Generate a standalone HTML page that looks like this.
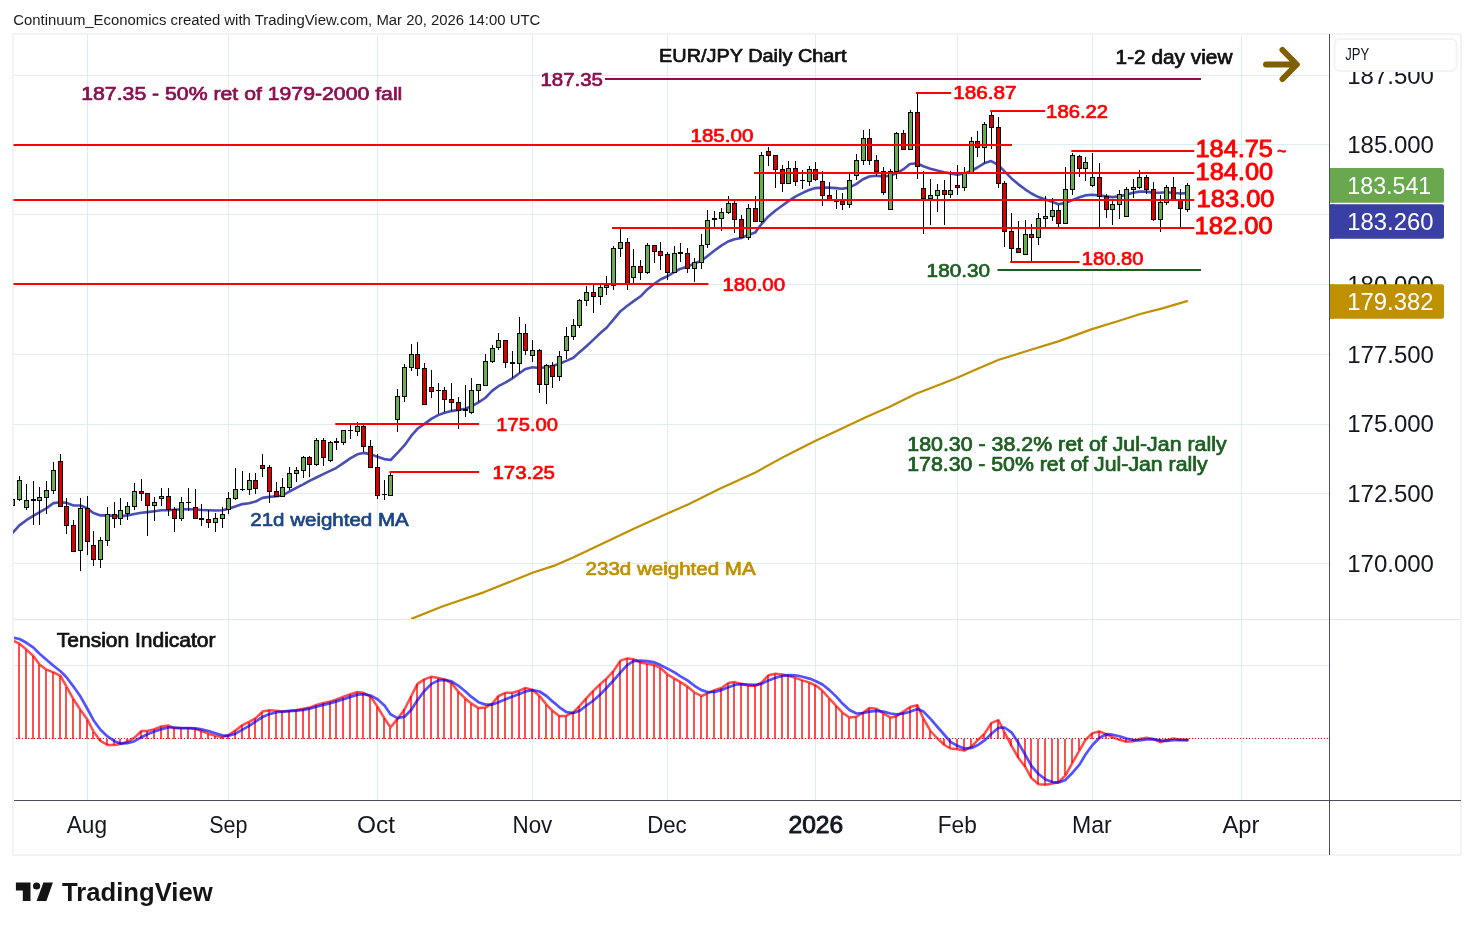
<!DOCTYPE html><html><head><meta charset="utf-8"><title>EUR/JPY Daily Chart</title><style>html,body{margin:0;padding:0;background:#fff}svg{display:block;will-change:transform}</style></head><body><svg width="1474" height="930" viewBox="0 0 1474 930" font-family="'Liberation Sans', sans-serif">
<rect width="1474" height="930" fill="#fff"/>
<g shape-rendering="crispEdges">
<rect x="12.00" y="33.00" width="1450.00" height="2.00" fill="#f3f3f5" />
<rect x="12.00" y="854.00" width="1450.00" height="2.00" fill="#f3f3f5" />
<rect x="12.00" y="33.00" width="2.00" height="823.00" fill="#f3f3f5" />
<rect x="1460.00" y="33.00" width="2.00" height="823.00" fill="#f3f3f5" />
<rect x="87.00" y="35.00" width="1.00" height="765.00" fill="#e1ebf2" />
<rect x="228.00" y="35.00" width="1.00" height="765.00" fill="#e1ebf2" />
<rect x="377.00" y="35.00" width="1.00" height="765.00" fill="#e1ebf2" />
<rect x="532.00" y="35.00" width="1.00" height="765.00" fill="#e1ebf2" />
<rect x="667.00" y="35.00" width="1.00" height="765.00" fill="#e1ebf2" />
<rect x="815.00" y="35.00" width="1.00" height="765.00" fill="#e1ebf2" />
<rect x="957.00" y="35.00" width="1.00" height="765.00" fill="#e1ebf2" />
<rect x="1092.00" y="35.00" width="1.00" height="765.00" fill="#e1ebf2" />
<rect x="1241.00" y="35.00" width="1.00" height="765.00" fill="#e1ebf2" />
<rect x="14.00" y="75.00" width="1315.00" height="1.00" fill="#e1ebf2" />
<rect x="14.00" y="144.00" width="1315.00" height="1.00" fill="#e1ebf2" />
<rect x="14.00" y="214.00" width="1315.00" height="1.00" fill="#e1ebf2" />
<rect x="14.00" y="284.00" width="1315.00" height="1.00" fill="#e1ebf2" />
<rect x="14.00" y="354.00" width="1315.00" height="1.00" fill="#e1ebf2" />
<rect x="14.00" y="424.00" width="1315.00" height="1.00" fill="#e1ebf2" />
<rect x="14.00" y="493.00" width="1315.00" height="1.00" fill="#e1ebf2" />
<rect x="14.00" y="563.00" width="1315.00" height="1.00" fill="#e1ebf2" />
<rect x="14.00" y="665.00" width="1315.00" height="1.00" fill="#e1ebf2" />
<rect x="14.00" y="738.00" width="1315.00" height="1.00" fill="#e1ebf2" />
<rect x="14.00" y="619.00" width="1446.00" height="1.00" fill="#e2e5ec" />
</g>
<defs><clipPath id="cm"><rect x="13" y="35" width="1316" height="584"/></clipPath><clipPath id="ci"><rect x="14" y="620" width="1315" height="180"/></clipPath></defs>
<g clip-path="url(#cm)">
<polyline points="412.0,618.6 442.2,606.5 484.3,592.1 532.5,572.8 553.6,565.9 573.2,557.4 604.8,542.4 634.9,528.2 668.0,513.2 689.1,504.1 719.2,489.1 755.4,472.5 785.5,455.9 815.0,441.1 836.1,431.2 866.3,417.0 890.3,406.5 916.0,393.8 935.5,386.3 956.6,377.9 977.7,368.8 998.8,359.8 1022.9,352.3 1059.0,341.1 1092.1,329.1 1119.2,320.7 1140.3,314.0 1161.4,308.6 1187.0,301.1" fill="none" stroke="#bf9000" stroke-width="2.2" stroke-linejoin="round" stroke-linecap="round" />
<polyline points="13.0,532.5 19.4,525.4 26.3,520.2 33.3,515.9 39.3,512.3 46.4,508.3 53.5,503.1 60.3,502.2 66.5,502.9 73.6,505.5 80.4,505.5 87.3,508.3 93.4,513.1 100.5,515.4 107.4,515.4 114.2,515.9 120.4,516.4 127.5,515.4 134.3,514.0 141.4,512.8 147.4,512.1 154.4,511.2 161.3,510.2 168.4,510.2 174.3,509.7 181.4,509.3 188.5,509.3 195.4,509.5 201.5,510.0 208.4,510.2 215.5,510.5 222.3,510.2 228.5,508.8 235.3,506.4 242.4,504.1 249.0,503.3 255.6,501.6 262.5,497.9 269.3,496.9 276.2,496.2 282.6,495.5 289.4,491.5 296.3,487.9 303.2,484.4 309.5,480.8 316.4,477.5 323.3,474.2 330.1,470.9 336.5,467.8 343.4,463.1 350.2,458.4 357.3,454.3 363.5,452.9 370.3,454.1 377.4,456.7 384.3,459.1 390.7,460.0 397.5,452.9 404.4,445.4 411.2,435.9 417.4,428.8 424.2,424.1 431.3,418.9 438.2,415.1 444.6,412.7 451.4,411.1 458.3,409.9 465.2,408.7 471.6,406.3 478.4,402.3 485.2,398.0 492.1,390.9 498.4,386.2 505.3,382.7 512.4,378.4 519.3,373.2 525.6,368.9 532.5,367.3 539.4,368.0 546.2,367.3 552.6,366.1 559.5,363.7 566.3,360.9 573.4,357.8 579.8,351.9 586.7,346.0 593.5,339.6 600.4,333.0 606.8,327.5 613.6,319.3 620.5,311.2 627.4,305.8 633.7,301.1 640.6,296.3 647.5,289.2 654.3,283.8 660.7,279.3 667.6,276.2 674.4,272.0 680.6,268.7 687.4,266.8 694.5,263.2 701.2,260.9 707.3,256.2 714.2,250.8 721.3,245.6 728.1,241.5 734.5,239.2 741.4,238.0 748.2,234.9 755.1,232.6 761.3,224.3 768.1,216.7 775.2,210.8 782.1,205.8 788.5,201.1 795.3,196.6 802.2,193.1 809.0,190.0 815.4,188.1 822.3,187.6 829.1,187.6 836.0,188.1 842.1,188.8 849.2,187.6 856.1,184.1 863.0,179.3 869.3,176.5 876.2,175.8 883.1,176.5 889.9,175.8 896.3,173.4 903.2,169.4 910.0,164.0 916.9,163.3 923.3,166.3 930.4,168.7 937.2,170.6 944.3,172.2 950.4,173.4 957.3,174.6 964.1,173.4 971.0,171.1 977.4,167.5 984.2,163.3 991.1,161.1 997.9,164.7 1004.3,171.1 1011.2,178.2 1018.1,184.1 1025.1,189.3 1031.5,193.5 1038.4,197.1 1045.3,199.4 1052.1,201.8 1058.3,204.2 1065.1,203.0 1072.0,200.2 1078.8,197.5 1085.2,195.4 1092.1,194.7 1099.2,195.4 1106.0,196.4 1112.4,197.1 1119.3,196.4 1126.1,194.7 1133.0,192.8 1139.4,191.6 1146.2,191.6 1153.1,192.8 1160.0,192.8 1166.3,192.3 1173.2,192.8 1180.1,193.5 1186.9,193.1" fill="none" stroke="#3a3fae" stroke-width="2.6" stroke-linejoin="round" stroke-linecap="round" stroke-opacity="0.92"/>
<g shape-rendering="crispEdges">
<rect x="12.00" y="499.00" width="1.00" height="6.00" fill="#000" />
<rect x="10.00" y="499.00" width="5.00" height="7.00" fill="#000" />
<rect x="11.00" y="500.00" width="3.00" height="5.00" fill="#6aae52" />
<rect x="19.00" y="476.00" width="1.00" height="25.00" fill="#000" />
<rect x="17.00" y="480.00" width="5.00" height="20.00" fill="#000" />
<rect x="18.00" y="481.00" width="3.00" height="18.00" fill="#6aae52" />
<rect x="26.00" y="484.00" width="1.00" height="26.00" fill="#000" />
<rect x="24.00" y="500.00" width="5.00" height="8.00" fill="#000" />
<rect x="25.00" y="501.00" width="3.00" height="6.00" fill="#6aae52" />
<rect x="33.00" y="481.00" width="1.00" height="44.00" fill="#000" />
<rect x="31.00" y="499.00" width="5.00" height="2.00" fill="#000" />
<rect x="39.00" y="487.00" width="1.00" height="38.00" fill="#000" />
<rect x="37.00" y="497.00" width="5.00" height="4.00" fill="#000" />
<rect x="38.00" y="498.00" width="3.00" height="2.00" fill="#6aae52" />
<rect x="46.00" y="481.00" width="1.00" height="33.00" fill="#000" />
<rect x="44.00" y="490.00" width="5.00" height="8.00" fill="#000" />
<rect x="45.00" y="491.00" width="3.00" height="6.00" fill="#6aae52" />
<rect x="53.00" y="462.00" width="1.00" height="32.00" fill="#000" />
<rect x="51.00" y="470.00" width="5.00" height="21.00" fill="#000" />
<rect x="52.00" y="471.00" width="3.00" height="19.00" fill="#6aae52" />
<rect x="60.00" y="454.00" width="1.00" height="52.00" fill="#000" />
<rect x="58.00" y="461.00" width="5.00" height="46.00" fill="#000" />
<rect x="59.00" y="462.00" width="3.00" height="44.00" fill="#d90000" />
<rect x="66.00" y="498.00" width="1.00" height="36.00" fill="#000" />
<rect x="64.00" y="506.00" width="5.00" height="20.00" fill="#000" />
<rect x="65.00" y="507.00" width="3.00" height="18.00" fill="#d90000" />
<rect x="73.00" y="520.00" width="1.00" height="32.00" fill="#000" />
<rect x="71.00" y="525.00" width="5.00" height="27.00" fill="#000" />
<rect x="72.00" y="526.00" width="3.00" height="25.00" fill="#d90000" />
<rect x="80.00" y="498.00" width="1.00" height="73.00" fill="#000" />
<rect x="78.00" y="508.00" width="5.00" height="43.00" fill="#000" />
<rect x="79.00" y="509.00" width="3.00" height="41.00" fill="#6aae52" />
<rect x="87.00" y="496.00" width="1.00" height="59.00" fill="#000" />
<rect x="85.00" y="508.00" width="5.00" height="34.00" fill="#000" />
<rect x="86.00" y="509.00" width="3.00" height="32.00" fill="#d90000" />
<rect x="93.00" y="531.00" width="1.00" height="35.00" fill="#000" />
<rect x="91.00" y="545.00" width="5.00" height="15.00" fill="#000" />
<rect x="92.00" y="546.00" width="3.00" height="13.00" fill="#d90000" />
<rect x="100.00" y="537.00" width="1.00" height="31.00" fill="#000" />
<rect x="98.00" y="540.00" width="5.00" height="20.00" fill="#000" />
<rect x="99.00" y="541.00" width="3.00" height="18.00" fill="#6aae52" />
<rect x="107.00" y="507.00" width="1.00" height="39.00" fill="#000" />
<rect x="105.00" y="514.00" width="5.00" height="27.00" fill="#000" />
<rect x="106.00" y="515.00" width="3.00" height="25.00" fill="#6aae52" />
<rect x="114.00" y="502.00" width="1.00" height="26.00" fill="#000" />
<rect x="112.00" y="514.00" width="5.00" height="5.00" fill="#000" />
<rect x="113.00" y="515.00" width="3.00" height="3.00" fill="#d90000" />
<rect x="120.00" y="498.00" width="1.00" height="27.00" fill="#000" />
<rect x="118.00" y="510.00" width="5.00" height="9.00" fill="#000" />
<rect x="119.00" y="511.00" width="3.00" height="7.00" fill="#6aae52" />
<rect x="127.00" y="502.00" width="1.00" height="18.00" fill="#000" />
<rect x="125.00" y="506.00" width="5.00" height="8.00" fill="#000" />
<rect x="126.00" y="507.00" width="3.00" height="6.00" fill="#6aae52" />
<rect x="134.00" y="483.00" width="1.00" height="27.00" fill="#000" />
<rect x="132.00" y="491.00" width="5.00" height="16.00" fill="#000" />
<rect x="133.00" y="492.00" width="3.00" height="14.00" fill="#6aae52" />
<rect x="141.00" y="479.00" width="1.00" height="22.00" fill="#000" />
<rect x="139.00" y="491.00" width="5.00" height="3.00" fill="#000" />
<rect x="140.00" y="492.00" width="3.00" height="1.00" fill="#d90000" />
<rect x="147.00" y="493.00" width="1.00" height="43.00" fill="#000" />
<rect x="145.00" y="493.00" width="5.00" height="13.00" fill="#000" />
<rect x="146.00" y="494.00" width="3.00" height="11.00" fill="#d90000" />
<rect x="154.00" y="497.00" width="1.00" height="24.00" fill="#000" />
<rect x="152.00" y="502.00" width="5.00" height="4.00" fill="#000" />
<rect x="153.00" y="503.00" width="3.00" height="2.00" fill="#6aae52" />
<rect x="161.00" y="488.00" width="1.00" height="18.00" fill="#000" />
<rect x="159.00" y="496.00" width="5.00" height="3.00" fill="#000" />
<rect x="160.00" y="497.00" width="3.00" height="1.00" fill="#6aae52" />
<rect x="168.00" y="488.00" width="1.00" height="28.00" fill="#000" />
<rect x="166.00" y="496.00" width="5.00" height="14.00" fill="#000" />
<rect x="167.00" y="497.00" width="3.00" height="12.00" fill="#d90000" />
<rect x="174.00" y="507.00" width="1.00" height="25.00" fill="#000" />
<rect x="172.00" y="509.00" width="5.00" height="10.00" fill="#000" />
<rect x="173.00" y="510.00" width="3.00" height="8.00" fill="#d90000" />
<rect x="181.00" y="497.00" width="1.00" height="24.00" fill="#000" />
<rect x="179.00" y="502.00" width="5.00" height="17.00" fill="#000" />
<rect x="180.00" y="503.00" width="3.00" height="15.00" fill="#6aae52" />
<rect x="188.00" y="488.00" width="1.00" height="23.00" fill="#000" />
<rect x="186.00" y="502.00" width="5.00" height="1.00" fill="#000" />
<rect x="195.00" y="489.00" width="1.00" height="29.00" fill="#000" />
<rect x="193.00" y="507.00" width="5.00" height="12.00" fill="#000" />
<rect x="194.00" y="508.00" width="3.00" height="10.00" fill="#d90000" />
<rect x="201.00" y="504.00" width="1.00" height="22.00" fill="#000" />
<rect x="199.00" y="518.00" width="5.00" height="2.00" fill="#000" />
<rect x="208.00" y="510.00" width="1.00" height="18.00" fill="#000" />
<rect x="206.00" y="519.00" width="5.00" height="4.00" fill="#000" />
<rect x="207.00" y="520.00" width="3.00" height="2.00" fill="#d90000" />
<rect x="215.00" y="513.00" width="1.00" height="19.00" fill="#000" />
<rect x="213.00" y="518.00" width="5.00" height="5.00" fill="#000" />
<rect x="214.00" y="519.00" width="3.00" height="3.00" fill="#6aae52" />
<rect x="222.00" y="507.00" width="1.00" height="21.00" fill="#000" />
<rect x="220.00" y="514.00" width="5.00" height="5.00" fill="#000" />
<rect x="221.00" y="515.00" width="3.00" height="3.00" fill="#6aae52" />
<rect x="228.00" y="492.00" width="1.00" height="22.00" fill="#000" />
<rect x="226.00" y="498.00" width="5.00" height="12.00" fill="#000" />
<rect x="227.00" y="499.00" width="3.00" height="10.00" fill="#6aae52" />
<rect x="235.00" y="468.00" width="1.00" height="32.00" fill="#000" />
<rect x="233.00" y="489.00" width="5.00" height="10.00" fill="#000" />
<rect x="234.00" y="490.00" width="3.00" height="8.00" fill="#6aae52" />
<rect x="242.00" y="471.00" width="1.00" height="20.00" fill="#000" />
<rect x="240.00" y="489.00" width="5.00" height="1.00" fill="#000" />
<rect x="249.00" y="473.00" width="1.00" height="22.00" fill="#000" />
<rect x="247.00" y="480.00" width="5.00" height="10.00" fill="#000" />
<rect x="248.00" y="481.00" width="3.00" height="8.00" fill="#6aae52" />
<rect x="255.00" y="473.00" width="1.00" height="21.00" fill="#000" />
<rect x="253.00" y="480.00" width="5.00" height="9.00" fill="#000" />
<rect x="254.00" y="481.00" width="3.00" height="7.00" fill="#d90000" />
<rect x="262.00" y="454.00" width="1.00" height="23.00" fill="#000" />
<rect x="260.00" y="465.00" width="5.00" height="4.00" fill="#000" />
<rect x="261.00" y="466.00" width="3.00" height="2.00" fill="#d90000" />
<rect x="269.00" y="465.00" width="1.00" height="38.00" fill="#000" />
<rect x="267.00" y="467.00" width="5.00" height="25.00" fill="#000" />
<rect x="268.00" y="468.00" width="3.00" height="23.00" fill="#d90000" />
<rect x="276.00" y="482.00" width="1.00" height="15.00" fill="#000" />
<rect x="274.00" y="491.00" width="5.00" height="6.00" fill="#000" />
<rect x="275.00" y="492.00" width="3.00" height="4.00" fill="#d90000" />
<rect x="282.00" y="478.00" width="1.00" height="19.00" fill="#000" />
<rect x="280.00" y="487.00" width="5.00" height="10.00" fill="#000" />
<rect x="281.00" y="488.00" width="3.00" height="8.00" fill="#6aae52" />
<rect x="289.00" y="467.00" width="1.00" height="23.00" fill="#000" />
<rect x="287.00" y="473.00" width="5.00" height="15.00" fill="#000" />
<rect x="288.00" y="474.00" width="3.00" height="13.00" fill="#6aae52" />
<rect x="296.00" y="467.00" width="1.00" height="15.00" fill="#000" />
<rect x="294.00" y="470.00" width="5.00" height="4.00" fill="#000" />
<rect x="295.00" y="471.00" width="3.00" height="2.00" fill="#6aae52" />
<rect x="303.00" y="456.00" width="1.00" height="22.00" fill="#000" />
<rect x="301.00" y="457.00" width="5.00" height="14.00" fill="#000" />
<rect x="302.00" y="458.00" width="3.00" height="12.00" fill="#6aae52" />
<rect x="309.00" y="456.00" width="1.00" height="21.00" fill="#000" />
<rect x="307.00" y="457.00" width="5.00" height="8.00" fill="#000" />
<rect x="308.00" y="458.00" width="3.00" height="6.00" fill="#d90000" />
<rect x="316.00" y="438.00" width="1.00" height="28.00" fill="#000" />
<rect x="314.00" y="440.00" width="5.00" height="25.00" fill="#000" />
<rect x="315.00" y="441.00" width="3.00" height="23.00" fill="#6aae52" />
<rect x="323.00" y="438.00" width="1.00" height="28.00" fill="#000" />
<rect x="321.00" y="440.00" width="5.00" height="18.00" fill="#000" />
<rect x="322.00" y="441.00" width="3.00" height="16.00" fill="#d90000" />
<rect x="330.00" y="441.00" width="1.00" height="21.00" fill="#000" />
<rect x="328.00" y="442.00" width="5.00" height="19.00" fill="#000" />
<rect x="329.00" y="443.00" width="3.00" height="17.00" fill="#6aae52" />
<rect x="336.00" y="438.00" width="1.00" height="12.00" fill="#000" />
<rect x="334.00" y="441.00" width="5.00" height="2.00" fill="#000" />
<rect x="343.00" y="430.00" width="1.00" height="15.00" fill="#000" />
<rect x="341.00" y="430.00" width="5.00" height="13.00" fill="#000" />
<rect x="342.00" y="431.00" width="3.00" height="11.00" fill="#6aae52" />
<rect x="350.00" y="425.00" width="1.00" height="14.00" fill="#000" />
<rect x="348.00" y="430.00" width="5.00" height="1.00" fill="#000" />
<rect x="357.00" y="422.00" width="1.00" height="14.00" fill="#000" />
<rect x="355.00" y="426.00" width="5.00" height="6.00" fill="#000" />
<rect x="356.00" y="427.00" width="3.00" height="4.00" fill="#6aae52" />
<rect x="363.00" y="425.00" width="1.00" height="27.00" fill="#000" />
<rect x="361.00" y="426.00" width="5.00" height="21.00" fill="#000" />
<rect x="362.00" y="427.00" width="3.00" height="19.00" fill="#d90000" />
<rect x="370.00" y="440.00" width="1.00" height="28.00" fill="#000" />
<rect x="368.00" y="446.00" width="5.00" height="22.00" fill="#000" />
<rect x="369.00" y="447.00" width="3.00" height="20.00" fill="#d90000" />
<rect x="377.00" y="454.00" width="1.00" height="45.00" fill="#000" />
<rect x="375.00" y="467.00" width="5.00" height="29.00" fill="#000" />
<rect x="376.00" y="468.00" width="3.00" height="27.00" fill="#d90000" />
<rect x="384.00" y="480.00" width="1.00" height="20.00" fill="#000" />
<rect x="382.00" y="494.00" width="5.00" height="1.00" fill="#000" />
<rect x="390.00" y="473.00" width="1.00" height="22.00" fill="#000" />
<rect x="388.00" y="475.00" width="5.00" height="21.00" fill="#000" />
<rect x="389.00" y="476.00" width="3.00" height="19.00" fill="#6aae52" />
<rect x="397.00" y="389.00" width="1.00" height="43.00" fill="#000" />
<rect x="395.00" y="396.00" width="5.00" height="24.00" fill="#000" />
<rect x="396.00" y="397.00" width="3.00" height="22.00" fill="#6aae52" />
<rect x="404.00" y="364.00" width="1.00" height="38.00" fill="#000" />
<rect x="402.00" y="367.00" width="5.00" height="30.00" fill="#000" />
<rect x="403.00" y="368.00" width="3.00" height="28.00" fill="#6aae52" />
<rect x="411.00" y="344.00" width="1.00" height="27.00" fill="#000" />
<rect x="409.00" y="354.00" width="5.00" height="14.00" fill="#000" />
<rect x="410.00" y="355.00" width="3.00" height="12.00" fill="#6aae52" />
<rect x="417.00" y="342.00" width="1.00" height="34.00" fill="#000" />
<rect x="415.00" y="354.00" width="5.00" height="15.00" fill="#000" />
<rect x="416.00" y="355.00" width="3.00" height="13.00" fill="#d90000" />
<rect x="424.00" y="363.00" width="1.00" height="42.00" fill="#000" />
<rect x="422.00" y="368.00" width="5.00" height="37.00" fill="#000" />
<rect x="423.00" y="369.00" width="3.00" height="35.00" fill="#d90000" />
<rect x="431.00" y="370.00" width="1.00" height="28.00" fill="#000" />
<rect x="429.00" y="387.00" width="5.00" height="5.00" fill="#000" />
<rect x="430.00" y="388.00" width="3.00" height="3.00" fill="#d90000" />
<rect x="438.00" y="383.00" width="1.00" height="31.00" fill="#000" />
<rect x="436.00" y="390.00" width="5.00" height="1.00" fill="#000" />
<rect x="444.00" y="387.00" width="1.00" height="25.00" fill="#000" />
<rect x="442.00" y="390.00" width="5.00" height="10.00" fill="#000" />
<rect x="443.00" y="391.00" width="3.00" height="8.00" fill="#d90000" />
<rect x="451.00" y="383.00" width="1.00" height="28.00" fill="#000" />
<rect x="449.00" y="399.00" width="5.00" height="4.00" fill="#000" />
<rect x="450.00" y="400.00" width="3.00" height="2.00" fill="#d90000" />
<rect x="458.00" y="397.00" width="1.00" height="32.00" fill="#000" />
<rect x="456.00" y="402.00" width="5.00" height="9.00" fill="#000" />
<rect x="457.00" y="403.00" width="3.00" height="7.00" fill="#d90000" />
<rect x="465.00" y="385.00" width="1.00" height="32.00" fill="#000" />
<rect x="463.00" y="409.00" width="5.00" height="2.00" fill="#000" />
<rect x="471.00" y="378.00" width="1.00" height="36.00" fill="#000" />
<rect x="469.00" y="390.00" width="5.00" height="23.00" fill="#000" />
<rect x="470.00" y="391.00" width="3.00" height="21.00" fill="#6aae52" />
<rect x="478.00" y="384.00" width="1.00" height="18.00" fill="#000" />
<rect x="476.00" y="384.00" width="5.00" height="7.00" fill="#000" />
<rect x="477.00" y="385.00" width="3.00" height="5.00" fill="#6aae52" />
<rect x="485.00" y="354.00" width="1.00" height="32.00" fill="#000" />
<rect x="483.00" y="361.00" width="5.00" height="25.00" fill="#000" />
<rect x="484.00" y="362.00" width="3.00" height="23.00" fill="#6aae52" />
<rect x="492.00" y="345.00" width="1.00" height="18.00" fill="#000" />
<rect x="490.00" y="348.00" width="5.00" height="14.00" fill="#000" />
<rect x="491.00" y="349.00" width="3.00" height="12.00" fill="#6aae52" />
<rect x="498.00" y="333.00" width="1.00" height="17.00" fill="#000" />
<rect x="496.00" y="340.00" width="5.00" height="8.00" fill="#000" />
<rect x="497.00" y="341.00" width="3.00" height="6.00" fill="#6aae52" />
<rect x="505.00" y="340.00" width="1.00" height="28.00" fill="#000" />
<rect x="503.00" y="340.00" width="5.00" height="23.00" fill="#000" />
<rect x="504.00" y="341.00" width="3.00" height="21.00" fill="#d90000" />
<rect x="512.00" y="351.00" width="1.00" height="27.00" fill="#000" />
<rect x="510.00" y="362.00" width="5.00" height="2.00" fill="#000" />
<rect x="519.00" y="317.00" width="1.00" height="56.00" fill="#000" />
<rect x="517.00" y="333.00" width="5.00" height="31.00" fill="#000" />
<rect x="518.00" y="334.00" width="3.00" height="29.00" fill="#6aae52" />
<rect x="525.00" y="324.00" width="1.00" height="31.00" fill="#000" />
<rect x="523.00" y="333.00" width="5.00" height="18.00" fill="#000" />
<rect x="524.00" y="334.00" width="3.00" height="16.00" fill="#d90000" />
<rect x="532.00" y="340.00" width="1.00" height="22.00" fill="#000" />
<rect x="530.00" y="350.00" width="5.00" height="6.00" fill="#000" />
<rect x="531.00" y="351.00" width="3.00" height="4.00" fill="#6aae52" />
<rect x="539.00" y="349.00" width="1.00" height="44.00" fill="#000" />
<rect x="537.00" y="350.00" width="5.00" height="35.00" fill="#000" />
<rect x="538.00" y="351.00" width="3.00" height="33.00" fill="#d90000" />
<rect x="546.00" y="364.00" width="1.00" height="40.00" fill="#000" />
<rect x="544.00" y="365.00" width="5.00" height="20.00" fill="#000" />
<rect x="545.00" y="366.00" width="3.00" height="18.00" fill="#6aae52" />
<rect x="552.00" y="362.00" width="1.00" height="26.00" fill="#000" />
<rect x="550.00" y="365.00" width="5.00" height="12.00" fill="#000" />
<rect x="551.00" y="366.00" width="3.00" height="10.00" fill="#d90000" />
<rect x="559.00" y="351.00" width="1.00" height="30.00" fill="#000" />
<rect x="557.00" y="356.00" width="5.00" height="21.00" fill="#000" />
<rect x="558.00" y="357.00" width="3.00" height="19.00" fill="#6aae52" />
<rect x="566.00" y="327.00" width="1.00" height="32.00" fill="#000" />
<rect x="564.00" y="336.00" width="5.00" height="15.00" fill="#000" />
<rect x="565.00" y="337.00" width="3.00" height="13.00" fill="#6aae52" />
<rect x="573.00" y="319.00" width="1.00" height="21.00" fill="#000" />
<rect x="571.00" y="325.00" width="5.00" height="12.00" fill="#000" />
<rect x="572.00" y="326.00" width="3.00" height="10.00" fill="#6aae52" />
<rect x="579.00" y="299.00" width="1.00" height="29.00" fill="#000" />
<rect x="577.00" y="300.00" width="5.00" height="26.00" fill="#000" />
<rect x="578.00" y="301.00" width="3.00" height="24.00" fill="#6aae52" />
<rect x="586.00" y="286.00" width="1.00" height="20.00" fill="#000" />
<rect x="584.00" y="292.00" width="5.00" height="9.00" fill="#000" />
<rect x="585.00" y="293.00" width="3.00" height="7.00" fill="#6aae52" />
<rect x="593.00" y="285.00" width="1.00" height="28.00" fill="#000" />
<rect x="591.00" y="292.00" width="5.00" height="5.00" fill="#000" />
<rect x="592.00" y="293.00" width="3.00" height="3.00" fill="#d90000" />
<rect x="600.00" y="285.00" width="1.00" height="20.00" fill="#000" />
<rect x="598.00" y="287.00" width="5.00" height="10.00" fill="#000" />
<rect x="599.00" y="288.00" width="3.00" height="8.00" fill="#6aae52" />
<rect x="606.00" y="276.00" width="1.00" height="19.00" fill="#000" />
<rect x="604.00" y="285.00" width="5.00" height="3.00" fill="#000" />
<rect x="605.00" y="286.00" width="3.00" height="1.00" fill="#6aae52" />
<rect x="613.00" y="246.00" width="1.00" height="44.00" fill="#000" />
<rect x="611.00" y="248.00" width="5.00" height="38.00" fill="#000" />
<rect x="612.00" y="249.00" width="3.00" height="36.00" fill="#6aae52" />
<rect x="620.00" y="229.00" width="1.00" height="28.00" fill="#000" />
<rect x="618.00" y="242.00" width="5.00" height="7.00" fill="#000" />
<rect x="619.00" y="243.00" width="3.00" height="5.00" fill="#6aae52" />
<rect x="627.00" y="238.00" width="1.00" height="52.00" fill="#000" />
<rect x="625.00" y="242.00" width="5.00" height="43.00" fill="#000" />
<rect x="626.00" y="243.00" width="3.00" height="41.00" fill="#d90000" />
<rect x="633.00" y="249.00" width="1.00" height="35.00" fill="#000" />
<rect x="631.00" y="266.00" width="5.00" height="12.00" fill="#000" />
<rect x="632.00" y="267.00" width="3.00" height="10.00" fill="#6aae52" />
<rect x="640.00" y="260.00" width="1.00" height="20.00" fill="#000" />
<rect x="638.00" y="266.00" width="5.00" height="7.00" fill="#000" />
<rect x="639.00" y="267.00" width="3.00" height="5.00" fill="#d90000" />
<rect x="647.00" y="243.00" width="1.00" height="31.00" fill="#000" />
<rect x="645.00" y="245.00" width="5.00" height="28.00" fill="#000" />
<rect x="646.00" y="246.00" width="3.00" height="26.00" fill="#6aae52" />
<rect x="654.00" y="245.00" width="1.00" height="18.00" fill="#000" />
<rect x="652.00" y="245.00" width="5.00" height="7.00" fill="#000" />
<rect x="653.00" y="246.00" width="3.00" height="5.00" fill="#d90000" />
<rect x="660.00" y="242.00" width="1.00" height="28.00" fill="#000" />
<rect x="658.00" y="251.00" width="5.00" height="5.00" fill="#000" />
<rect x="659.00" y="252.00" width="3.00" height="3.00" fill="#d90000" />
<rect x="667.00" y="252.00" width="1.00" height="28.00" fill="#000" />
<rect x="665.00" y="254.00" width="5.00" height="19.00" fill="#000" />
<rect x="666.00" y="255.00" width="3.00" height="17.00" fill="#d90000" />
<rect x="674.00" y="246.00" width="1.00" height="27.00" fill="#000" />
<rect x="672.00" y="253.00" width="5.00" height="20.00" fill="#000" />
<rect x="673.00" y="254.00" width="3.00" height="18.00" fill="#6aae52" />
<rect x="680.00" y="243.00" width="1.00" height="19.00" fill="#000" />
<rect x="678.00" y="252.00" width="5.00" height="2.00" fill="#000" />
<rect x="687.00" y="248.00" width="1.00" height="25.00" fill="#000" />
<rect x="685.00" y="253.00" width="5.00" height="16.00" fill="#000" />
<rect x="686.00" y="254.00" width="3.00" height="14.00" fill="#d90000" />
<rect x="694.00" y="258.00" width="1.00" height="24.00" fill="#000" />
<rect x="692.00" y="262.00" width="5.00" height="7.00" fill="#000" />
<rect x="693.00" y="263.00" width="3.00" height="5.00" fill="#6aae52" />
<rect x="701.00" y="234.00" width="1.00" height="35.00" fill="#000" />
<rect x="699.00" y="245.00" width="5.00" height="18.00" fill="#000" />
<rect x="700.00" y="246.00" width="3.00" height="16.00" fill="#6aae52" />
<rect x="707.00" y="210.00" width="1.00" height="38.00" fill="#000" />
<rect x="705.00" y="220.00" width="5.00" height="25.00" fill="#000" />
<rect x="706.00" y="221.00" width="3.00" height="23.00" fill="#6aae52" />
<rect x="714.00" y="211.00" width="1.00" height="16.00" fill="#000" />
<rect x="712.00" y="218.00" width="5.00" height="2.00" fill="#000" />
<rect x="721.00" y="208.00" width="1.00" height="23.00" fill="#000" />
<rect x="719.00" y="212.00" width="5.00" height="7.00" fill="#000" />
<rect x="720.00" y="213.00" width="3.00" height="5.00" fill="#6aae52" />
<rect x="728.00" y="196.00" width="1.00" height="18.00" fill="#000" />
<rect x="726.00" y="203.00" width="5.00" height="10.00" fill="#000" />
<rect x="727.00" y="204.00" width="3.00" height="8.00" fill="#6aae52" />
<rect x="734.00" y="201.00" width="1.00" height="32.00" fill="#000" />
<rect x="732.00" y="203.00" width="5.00" height="17.00" fill="#000" />
<rect x="733.00" y="204.00" width="3.00" height="15.00" fill="#d90000" />
<rect x="741.00" y="215.00" width="1.00" height="23.00" fill="#000" />
<rect x="739.00" y="219.00" width="5.00" height="19.00" fill="#000" />
<rect x="740.00" y="220.00" width="3.00" height="17.00" fill="#d90000" />
<rect x="748.00" y="204.00" width="1.00" height="36.00" fill="#000" />
<rect x="746.00" y="208.00" width="5.00" height="30.00" fill="#000" />
<rect x="747.00" y="209.00" width="3.00" height="28.00" fill="#6aae52" />
<rect x="755.00" y="196.00" width="1.00" height="26.00" fill="#000" />
<rect x="753.00" y="208.00" width="5.00" height="14.00" fill="#000" />
<rect x="754.00" y="209.00" width="3.00" height="12.00" fill="#d90000" />
<rect x="761.00" y="152.00" width="1.00" height="71.00" fill="#000" />
<rect x="759.00" y="155.00" width="5.00" height="67.00" fill="#000" />
<rect x="760.00" y="156.00" width="3.00" height="65.00" fill="#6aae52" />
<rect x="768.00" y="147.00" width="1.00" height="19.00" fill="#000" />
<rect x="766.00" y="151.00" width="5.00" height="5.00" fill="#000" />
<rect x="767.00" y="152.00" width="3.00" height="3.00" fill="#d90000" />
<rect x="775.00" y="155.00" width="1.00" height="33.00" fill="#000" />
<rect x="773.00" y="155.00" width="5.00" height="15.00" fill="#000" />
<rect x="774.00" y="156.00" width="3.00" height="13.00" fill="#d90000" />
<rect x="782.00" y="165.00" width="1.00" height="27.00" fill="#000" />
<rect x="780.00" y="169.00" width="5.00" height="15.00" fill="#000" />
<rect x="781.00" y="170.00" width="3.00" height="13.00" fill="#d90000" />
<rect x="788.00" y="161.00" width="1.00" height="23.00" fill="#000" />
<rect x="786.00" y="168.00" width="5.00" height="16.00" fill="#000" />
<rect x="787.00" y="169.00" width="3.00" height="14.00" fill="#6aae52" />
<rect x="795.00" y="161.00" width="1.00" height="25.00" fill="#000" />
<rect x="793.00" y="168.00" width="5.00" height="14.00" fill="#000" />
<rect x="794.00" y="169.00" width="3.00" height="12.00" fill="#d90000" />
<rect x="802.00" y="170.00" width="1.00" height="19.00" fill="#000" />
<rect x="800.00" y="180.00" width="5.00" height="1.00" fill="#000" />
<rect x="809.00" y="166.00" width="1.00" height="20.00" fill="#000" />
<rect x="807.00" y="169.00" width="5.00" height="13.00" fill="#000" />
<rect x="808.00" y="170.00" width="3.00" height="11.00" fill="#6aae52" />
<rect x="815.00" y="162.00" width="1.00" height="19.00" fill="#000" />
<rect x="813.00" y="169.00" width="5.00" height="11.00" fill="#000" />
<rect x="814.00" y="170.00" width="3.00" height="9.00" fill="#d90000" />
<rect x="822.00" y="171.00" width="1.00" height="35.00" fill="#000" />
<rect x="820.00" y="181.00" width="5.00" height="15.00" fill="#000" />
<rect x="821.00" y="182.00" width="3.00" height="13.00" fill="#d90000" />
<rect x="829.00" y="182.00" width="1.00" height="19.00" fill="#000" />
<rect x="827.00" y="195.00" width="5.00" height="5.00" fill="#000" />
<rect x="828.00" y="196.00" width="3.00" height="3.00" fill="#d90000" />
<rect x="836.00" y="190.00" width="1.00" height="19.00" fill="#000" />
<rect x="834.00" y="200.00" width="5.00" height="2.00" fill="#000" />
<rect x="842.00" y="193.00" width="1.00" height="17.00" fill="#000" />
<rect x="840.00" y="201.00" width="5.00" height="4.00" fill="#000" />
<rect x="841.00" y="202.00" width="3.00" height="2.00" fill="#d90000" />
<rect x="849.00" y="174.00" width="1.00" height="34.00" fill="#000" />
<rect x="847.00" y="180.00" width="5.00" height="25.00" fill="#000" />
<rect x="848.00" y="181.00" width="3.00" height="23.00" fill="#6aae52" />
<rect x="856.00" y="154.00" width="1.00" height="26.00" fill="#000" />
<rect x="854.00" y="160.00" width="5.00" height="16.00" fill="#000" />
<rect x="855.00" y="161.00" width="3.00" height="14.00" fill="#6aae52" />
<rect x="863.00" y="130.00" width="1.00" height="35.00" fill="#000" />
<rect x="861.00" y="138.00" width="5.00" height="23.00" fill="#000" />
<rect x="862.00" y="139.00" width="3.00" height="21.00" fill="#6aae52" />
<rect x="869.00" y="129.00" width="1.00" height="36.00" fill="#000" />
<rect x="867.00" y="138.00" width="5.00" height="23.00" fill="#000" />
<rect x="868.00" y="139.00" width="3.00" height="21.00" fill="#d90000" />
<rect x="876.00" y="155.00" width="1.00" height="21.00" fill="#000" />
<rect x="874.00" y="160.00" width="5.00" height="12.00" fill="#000" />
<rect x="875.00" y="161.00" width="3.00" height="10.00" fill="#d90000" />
<rect x="883.00" y="167.00" width="1.00" height="28.00" fill="#000" />
<rect x="881.00" y="171.00" width="5.00" height="22.00" fill="#000" />
<rect x="882.00" y="172.00" width="3.00" height="20.00" fill="#d90000" />
<rect x="890.00" y="169.00" width="1.00" height="40.00" fill="#000" />
<rect x="888.00" y="171.00" width="5.00" height="39.00" fill="#000" />
<rect x="889.00" y="172.00" width="3.00" height="37.00" fill="#6aae52" />
<rect x="896.00" y="132.00" width="1.00" height="47.00" fill="#000" />
<rect x="894.00" y="133.00" width="5.00" height="39.00" fill="#000" />
<rect x="895.00" y="134.00" width="3.00" height="37.00" fill="#6aae52" />
<rect x="903.00" y="130.00" width="1.00" height="20.00" fill="#000" />
<rect x="901.00" y="133.00" width="5.00" height="17.00" fill="#000" />
<rect x="902.00" y="134.00" width="3.00" height="15.00" fill="#d90000" />
<rect x="910.00" y="110.00" width="1.00" height="40.00" fill="#000" />
<rect x="908.00" y="112.00" width="5.00" height="38.00" fill="#000" />
<rect x="909.00" y="113.00" width="3.00" height="36.00" fill="#6aae52" />
<rect x="917.00" y="93.00" width="1.00" height="86.00" fill="#000" />
<rect x="915.00" y="112.00" width="5.00" height="55.00" fill="#000" />
<rect x="916.00" y="113.00" width="3.00" height="53.00" fill="#d90000" />
<rect x="923.00" y="171.00" width="1.00" height="63.00" fill="#000" />
<rect x="921.00" y="188.00" width="5.00" height="11.00" fill="#000" />
<rect x="922.00" y="189.00" width="3.00" height="9.00" fill="#d90000" />
<rect x="930.00" y="179.00" width="1.00" height="46.00" fill="#000" />
<rect x="928.00" y="195.00" width="5.00" height="4.00" fill="#000" />
<rect x="929.00" y="196.00" width="3.00" height="2.00" fill="#6aae52" />
<rect x="937.00" y="184.00" width="1.00" height="28.00" fill="#000" />
<rect x="935.00" y="190.00" width="5.00" height="6.00" fill="#000" />
<rect x="936.00" y="191.00" width="3.00" height="4.00" fill="#6aae52" />
<rect x="944.00" y="180.00" width="1.00" height="45.00" fill="#000" />
<rect x="942.00" y="190.00" width="5.00" height="5.00" fill="#000" />
<rect x="943.00" y="191.00" width="3.00" height="3.00" fill="#d90000" />
<rect x="950.00" y="171.00" width="1.00" height="27.00" fill="#000" />
<rect x="948.00" y="190.00" width="5.00" height="5.00" fill="#000" />
<rect x="949.00" y="191.00" width="3.00" height="3.00" fill="#6aae52" />
<rect x="957.00" y="165.00" width="1.00" height="30.00" fill="#000" />
<rect x="955.00" y="185.00" width="5.00" height="3.00" fill="#000" />
<rect x="956.00" y="186.00" width="3.00" height="1.00" fill="#d90000" />
<rect x="964.00" y="167.00" width="1.00" height="24.00" fill="#000" />
<rect x="962.00" y="173.00" width="5.00" height="15.00" fill="#000" />
<rect x="963.00" y="174.00" width="3.00" height="13.00" fill="#6aae52" />
<rect x="971.00" y="137.00" width="1.00" height="36.00" fill="#000" />
<rect x="969.00" y="141.00" width="5.00" height="33.00" fill="#000" />
<rect x="970.00" y="142.00" width="3.00" height="31.00" fill="#6aae52" />
<rect x="977.00" y="131.00" width="1.00" height="26.00" fill="#000" />
<rect x="975.00" y="141.00" width="5.00" height="7.00" fill="#000" />
<rect x="976.00" y="142.00" width="3.00" height="5.00" fill="#d90000" />
<rect x="984.00" y="122.00" width="1.00" height="41.00" fill="#000" />
<rect x="982.00" y="124.00" width="5.00" height="24.00" fill="#000" />
<rect x="983.00" y="125.00" width="3.00" height="22.00" fill="#6aae52" />
<rect x="991.00" y="112.00" width="1.00" height="37.00" fill="#000" />
<rect x="989.00" y="115.00" width="5.00" height="13.00" fill="#000" />
<rect x="990.00" y="116.00" width="3.00" height="11.00" fill="#d90000" />
<rect x="998.00" y="117.00" width="1.00" height="71.00" fill="#000" />
<rect x="996.00" y="127.00" width="5.00" height="57.00" fill="#000" />
<rect x="997.00" y="128.00" width="3.00" height="55.00" fill="#d90000" />
<rect x="1004.00" y="181.00" width="1.00" height="66.00" fill="#000" />
<rect x="1002.00" y="183.00" width="5.00" height="49.00" fill="#000" />
<rect x="1003.00" y="184.00" width="3.00" height="47.00" fill="#d90000" />
<rect x="1011.00" y="213.00" width="1.00" height="49.00" fill="#000" />
<rect x="1009.00" y="231.00" width="5.00" height="18.00" fill="#000" />
<rect x="1010.00" y="232.00" width="3.00" height="16.00" fill="#d90000" />
<rect x="1018.00" y="221.00" width="1.00" height="32.00" fill="#000" />
<rect x="1016.00" y="248.00" width="5.00" height="5.00" fill="#000" />
<rect x="1017.00" y="249.00" width="3.00" height="3.00" fill="#d90000" />
<rect x="1025.00" y="220.00" width="1.00" height="35.00" fill="#000" />
<rect x="1023.00" y="234.00" width="5.00" height="21.00" fill="#000" />
<rect x="1024.00" y="235.00" width="3.00" height="19.00" fill="#6aae52" />
<rect x="1031.00" y="224.00" width="1.00" height="38.00" fill="#000" />
<rect x="1029.00" y="234.00" width="5.00" height="4.00" fill="#000" />
<rect x="1030.00" y="235.00" width="3.00" height="2.00" fill="#d90000" />
<rect x="1038.00" y="213.00" width="1.00" height="32.00" fill="#000" />
<rect x="1036.00" y="218.00" width="5.00" height="20.00" fill="#000" />
<rect x="1037.00" y="219.00" width="3.00" height="18.00" fill="#6aae52" />
<rect x="1045.00" y="196.00" width="1.00" height="31.00" fill="#000" />
<rect x="1043.00" y="216.00" width="5.00" height="3.00" fill="#000" />
<rect x="1044.00" y="217.00" width="3.00" height="1.00" fill="#6aae52" />
<rect x="1052.00" y="198.00" width="1.00" height="23.00" fill="#000" />
<rect x="1050.00" y="210.00" width="5.00" height="7.00" fill="#000" />
<rect x="1051.00" y="211.00" width="3.00" height="5.00" fill="#6aae52" />
<rect x="1058.00" y="205.00" width="1.00" height="22.00" fill="#000" />
<rect x="1056.00" y="210.00" width="5.00" height="14.00" fill="#000" />
<rect x="1057.00" y="211.00" width="3.00" height="12.00" fill="#d90000" />
<rect x="1065.00" y="167.00" width="1.00" height="57.00" fill="#000" />
<rect x="1063.00" y="189.00" width="5.00" height="35.00" fill="#000" />
<rect x="1064.00" y="190.00" width="3.00" height="33.00" fill="#6aae52" />
<rect x="1072.00" y="153.00" width="1.00" height="42.00" fill="#000" />
<rect x="1070.00" y="155.00" width="5.00" height="35.00" fill="#000" />
<rect x="1071.00" y="156.00" width="3.00" height="33.00" fill="#6aae52" />
<rect x="1079.00" y="155.00" width="1.00" height="22.00" fill="#000" />
<rect x="1077.00" y="156.00" width="5.00" height="13.00" fill="#000" />
<rect x="1078.00" y="157.00" width="3.00" height="11.00" fill="#d90000" />
<rect x="1085.00" y="157.00" width="1.00" height="24.00" fill="#000" />
<rect x="1083.00" y="162.00" width="5.00" height="7.00" fill="#000" />
<rect x="1084.00" y="163.00" width="3.00" height="5.00" fill="#6aae52" />
<rect x="1092.00" y="153.00" width="1.00" height="34.00" fill="#000" />
<rect x="1090.00" y="177.00" width="5.00" height="9.00" fill="#000" />
<rect x="1091.00" y="178.00" width="3.00" height="7.00" fill="#6aae52" />
<rect x="1099.00" y="163.00" width="1.00" height="64.00" fill="#000" />
<rect x="1097.00" y="177.00" width="5.00" height="20.00" fill="#000" />
<rect x="1098.00" y="178.00" width="3.00" height="18.00" fill="#d90000" />
<rect x="1106.00" y="194.00" width="1.00" height="24.00" fill="#000" />
<rect x="1104.00" y="196.00" width="5.00" height="14.00" fill="#000" />
<rect x="1105.00" y="197.00" width="3.00" height="12.00" fill="#d90000" />
<rect x="1112.00" y="201.00" width="1.00" height="24.00" fill="#000" />
<rect x="1110.00" y="204.00" width="5.00" height="6.00" fill="#000" />
<rect x="1111.00" y="205.00" width="3.00" height="4.00" fill="#6aae52" />
<rect x="1119.00" y="190.00" width="1.00" height="29.00" fill="#000" />
<rect x="1117.00" y="194.00" width="5.00" height="11.00" fill="#000" />
<rect x="1118.00" y="195.00" width="3.00" height="9.00" fill="#6aae52" />
<rect x="1126.00" y="187.00" width="1.00" height="30.00" fill="#000" />
<rect x="1124.00" y="189.00" width="5.00" height="28.00" fill="#000" />
<rect x="1125.00" y="190.00" width="3.00" height="26.00" fill="#6aae52" />
<rect x="1133.00" y="179.00" width="1.00" height="19.00" fill="#000" />
<rect x="1131.00" y="187.00" width="5.00" height="3.00" fill="#000" />
<rect x="1132.00" y="188.00" width="3.00" height="1.00" fill="#6aae52" />
<rect x="1139.00" y="170.00" width="1.00" height="19.00" fill="#000" />
<rect x="1137.00" y="177.00" width="5.00" height="11.00" fill="#000" />
<rect x="1138.00" y="178.00" width="3.00" height="9.00" fill="#6aae52" />
<rect x="1146.00" y="175.00" width="1.00" height="19.00" fill="#000" />
<rect x="1144.00" y="177.00" width="5.00" height="13.00" fill="#000" />
<rect x="1145.00" y="178.00" width="3.00" height="11.00" fill="#d90000" />
<rect x="1153.00" y="182.00" width="1.00" height="39.00" fill="#000" />
<rect x="1151.00" y="189.00" width="5.00" height="31.00" fill="#000" />
<rect x="1152.00" y="190.00" width="3.00" height="29.00" fill="#d90000" />
<rect x="1160.00" y="195.00" width="1.00" height="37.00" fill="#000" />
<rect x="1158.00" y="202.00" width="5.00" height="18.00" fill="#000" />
<rect x="1159.00" y="203.00" width="3.00" height="16.00" fill="#6aae52" />
<rect x="1166.00" y="185.00" width="1.00" height="20.00" fill="#000" />
<rect x="1164.00" y="187.00" width="5.00" height="16.00" fill="#000" />
<rect x="1165.00" y="188.00" width="3.00" height="14.00" fill="#6aae52" />
<rect x="1173.00" y="177.00" width="1.00" height="24.00" fill="#000" />
<rect x="1171.00" y="187.00" width="5.00" height="13.00" fill="#000" />
<rect x="1172.00" y="188.00" width="3.00" height="11.00" fill="#d90000" />
<rect x="1180.00" y="189.00" width="1.00" height="38.00" fill="#000" />
<rect x="1178.00" y="199.00" width="5.00" height="10.00" fill="#000" />
<rect x="1179.00" y="200.00" width="3.00" height="8.00" fill="#d90000" />
<rect x="1187.00" y="183.00" width="1.00" height="29.00" fill="#000" />
<rect x="1185.00" y="185.00" width="5.00" height="25.00" fill="#000" />
<rect x="1186.00" y="186.00" width="3.00" height="23.00" fill="#6aae52" />
</g>
</g>
<rect x="13.50" y="144.00" width="998.50" height="2.00" fill="#ff0000" />
<rect x="754.00" y="172.00" width="440.30" height="2.00" fill="#ff0000" />
<rect x="13.50" y="199.00" width="1180.80" height="2.00" fill="#ff0000" />
<rect x="612.00" y="227.00" width="582.30" height="2.00" fill="#ff0000" />
<rect x="1071.30" y="150.00" width="123.00" height="2.00" fill="#ff0000" />
<rect x="916.00" y="92.00" width="35.20" height="2.00" fill="#ff0000" />
<rect x="990.20" y="110.00" width="55.00" height="2.00" fill="#ff0000" />
<rect x="1010.20" y="261.00" width="69.30" height="2.00" fill="#ff0000" />
<rect x="13.50" y="283.00" width="694.90" height="2.00" fill="#ff0000" />
<rect x="335.30" y="423.00" width="143.70" height="2.00" fill="#ff0000" />
<rect x="389.50" y="471.00" width="89.50" height="2.00" fill="#ff0000" />
<rect x="605.00" y="78.00" width="596.00" height="2.00" fill="#8a0f50" />
<rect x="997.50" y="269.00" width="203.50" height="2.00" fill="#1c5e21" />
<path d="M1266 64.5 H1296 M1282.5 50 L1296.8 64.5 L1282.5 79" fill="none" stroke="#7f6000" stroke-width="6" stroke-linecap="round" stroke-linejoin="round"/>
<text x="81.26" y="100.00" font-size="19" fill="#8a0f50" stroke="#8a0f50" stroke-width="0.72" stroke-linejoin="round" paint-order="stroke" textLength="321.08" lengthAdjust="spacingAndGlyphs" >187.35 - 50% ret of 1979-2000 fall</text>
<text x="540.44" y="86.20" font-size="18" fill="#8a0f50" stroke="#8a0f50" stroke-width="0.68" stroke-linejoin="round" paint-order="stroke" textLength="62.52" lengthAdjust="spacingAndGlyphs" >187.35</text>
<text x="659.06" y="61.60" font-size="19" fill="#111" stroke="#111" stroke-width="0.72" stroke-linejoin="round" paint-order="stroke" textLength="187.48" lengthAdjust="spacingAndGlyphs" >EUR/JPY Daily Chart</text>
<text x="1115.57" y="63.80" font-size="19.3" fill="#111" stroke="#111" stroke-width="0.73" stroke-linejoin="round" paint-order="stroke" textLength="116.87" lengthAdjust="spacingAndGlyphs" >1-2 day view</text>
<text x="690.54" y="142.40" font-size="18" fill="#ff0000" stroke="#ff0000" stroke-width="0.68" stroke-linejoin="round" paint-order="stroke" textLength="62.82" lengthAdjust="spacingAndGlyphs" >185.00</text>
<text x="953.34" y="98.90" font-size="18" fill="#ff0000" stroke="#ff0000" stroke-width="0.68" stroke-linejoin="round" paint-order="stroke" textLength="63.22" lengthAdjust="spacingAndGlyphs" >186.87</text>
<text x="1046.14" y="117.90" font-size="18" fill="#ff0000" stroke="#ff0000" stroke-width="0.68" stroke-linejoin="round" paint-order="stroke" textLength="61.92" lengthAdjust="spacingAndGlyphs" >186.22</text>
<text x="1081.84" y="265.30" font-size="18" fill="#ff0000" stroke="#ff0000" stroke-width="0.68" stroke-linejoin="round" paint-order="stroke" textLength="61.72" lengthAdjust="spacingAndGlyphs" >180.80</text>
<text x="926.64" y="276.60" font-size="18" fill="#1c5e21" stroke="#1c5e21" stroke-width="0.68" stroke-linejoin="round" paint-order="stroke" textLength="63.42" lengthAdjust="spacingAndGlyphs" >180.30</text>
<text x="722.44" y="290.80" font-size="18" fill="#ff0000" stroke="#ff0000" stroke-width="0.68" stroke-linejoin="round" paint-order="stroke" textLength="62.72" lengthAdjust="spacingAndGlyphs" >180.00</text>
<text x="496.34" y="430.70" font-size="18" fill="#ff0000" stroke="#ff0000" stroke-width="0.68" stroke-linejoin="round" paint-order="stroke" textLength="61.62" lengthAdjust="spacingAndGlyphs" >175.00</text>
<text x="492.44" y="478.90" font-size="18" fill="#ff0000" stroke="#ff0000" stroke-width="0.68" stroke-linejoin="round" paint-order="stroke" textLength="62.52" lengthAdjust="spacingAndGlyphs" >173.25</text>
<text x="1195.53" y="157.20" font-size="23" fill="#ff0000" stroke="#ff0000" stroke-width="0.87" stroke-linejoin="round" paint-order="stroke" textLength="77.43" lengthAdjust="spacingAndGlyphs" >184.75</text>
<text x="1277.10" y="157.50" font-size="20" fill="#ff0000" stroke="#ff0000" stroke-width="0.6" stroke-linejoin="round" paint-order="stroke" textLength="9.50" lengthAdjust="spacingAndGlyphs" >~</text>
<text x="1195.53" y="180.10" font-size="23" fill="#ff0000" stroke="#ff0000" stroke-width="0.87" stroke-linejoin="round" paint-order="stroke" textLength="77.63" lengthAdjust="spacingAndGlyphs" >184.00</text>
<text x="1196.63" y="206.50" font-size="23" fill="#ff0000" stroke="#ff0000" stroke-width="0.87" stroke-linejoin="round" paint-order="stroke" textLength="77.83" lengthAdjust="spacingAndGlyphs" >183.00</text>
<text x="1194.53" y="234.20" font-size="23" fill="#ff0000" stroke="#ff0000" stroke-width="0.87" stroke-linejoin="round" paint-order="stroke" textLength="78.13" lengthAdjust="spacingAndGlyphs" >182.00</text>
<text x="250.25" y="525.90" font-size="18.5" fill="#1c4587" stroke="#1c4587" stroke-width="0.7" stroke-linejoin="round" paint-order="stroke" textLength="158.50" lengthAdjust="spacingAndGlyphs" >21d weighted MA</text>
<text x="585.56" y="575.00" font-size="19" fill="#bf9000" stroke="#bf9000" stroke-width="0.72" stroke-linejoin="round" paint-order="stroke" textLength="170.08" lengthAdjust="spacingAndGlyphs" >233d weighted MA</text>
<text x="907.26" y="451.20" font-size="19.3" fill="#1c5e21" stroke="#1c5e21" stroke-width="0.73" stroke-linejoin="round" paint-order="stroke" textLength="319.37" lengthAdjust="spacingAndGlyphs" >180.30 - 38.2% ret of Jul-Jan rally</text>
<text x="907.26" y="470.70" font-size="19.3" fill="#1c5e21" stroke="#1c5e21" stroke-width="0.73" stroke-linejoin="round" paint-order="stroke" textLength="300.37" lengthAdjust="spacingAndGlyphs" >178.30 - 50% ret of Jul-Jan rally</text>
<text x="56.87" y="646.90" font-size="19.3" fill="#111" stroke="#111" stroke-width="0.73" stroke-linejoin="round" paint-order="stroke" textLength="158.67" lengthAdjust="spacingAndGlyphs" >Tension Indicator</text>
<g clip-path="url(#ci)">
<g shape-rendering="crispEdges">
<rect x="11.00" y="640.38" width="2.00" height="98.12" fill="#ff0000" fill-opacity="0.69"/>
<rect x="18.00" y="643.61" width="2.00" height="94.89" fill="#ff0000" fill-opacity="0.69"/>
<rect x="25.00" y="649.80" width="2.00" height="88.70" fill="#ff0000" fill-opacity="0.69"/>
<rect x="32.00" y="656.25" width="2.00" height="82.25" fill="#ff0000" fill-opacity="0.69"/>
<rect x="38.00" y="664.58" width="2.00" height="73.92" fill="#ff0000" fill-opacity="0.69"/>
<rect x="45.00" y="669.69" width="2.00" height="68.81" fill="#ff0000" fill-opacity="0.69"/>
<rect x="52.00" y="672.38" width="2.00" height="66.12" fill="#ff0000" fill-opacity="0.69"/>
<rect x="59.00" y="675.88" width="2.00" height="62.62" fill="#ff0000" fill-opacity="0.69"/>
<rect x="65.00" y="686.63" width="2.00" height="51.87" fill="#ff0000" fill-opacity="0.69"/>
<rect x="72.00" y="699.27" width="2.00" height="39.23" fill="#ff0000" fill-opacity="0.69"/>
<rect x="79.00" y="710.03" width="2.00" height="28.47" fill="#ff0000" fill-opacity="0.69"/>
<rect x="86.00" y="719.71" width="2.00" height="18.79" fill="#ff0000" fill-opacity="0.69"/>
<rect x="92.00" y="731.54" width="2.00" height="6.96" fill="#ff0000" fill-opacity="0.69"/>
<rect x="99.00" y="738.50" width="2.00" height="2.45" fill="#ff0000" fill-opacity="0.69"/>
<rect x="106.00" y="738.50" width="2.00" height="6.48" fill="#ff0000" fill-opacity="0.69"/>
<rect x="113.00" y="738.50" width="2.00" height="6.48" fill="#ff0000" fill-opacity="0.69"/>
<rect x="119.00" y="738.50" width="2.00" height="5.41" fill="#ff0000" fill-opacity="0.69"/>
<rect x="126.00" y="738.50" width="2.00" height="3.26" fill="#ff0000" fill-opacity="0.69"/>
<rect x="140.00" y="731.00" width="2.00" height="7.50" fill="#ff0000" fill-opacity="0.69"/>
<rect x="146.00" y="731.00" width="2.00" height="7.50" fill="#ff0000" fill-opacity="0.69"/>
<rect x="153.00" y="729.12" width="2.00" height="9.38" fill="#ff0000" fill-opacity="0.69"/>
<rect x="160.00" y="726.43" width="2.00" height="12.07" fill="#ff0000" fill-opacity="0.69"/>
<rect x="167.00" y="725.62" width="2.00" height="12.88" fill="#ff0000" fill-opacity="0.69"/>
<rect x="173.00" y="728.31" width="2.00" height="10.19" fill="#ff0000" fill-opacity="0.69"/>
<rect x="180.00" y="728.31" width="2.00" height="10.19" fill="#ff0000" fill-opacity="0.69"/>
<rect x="187.00" y="728.31" width="2.00" height="10.19" fill="#ff0000" fill-opacity="0.69"/>
<rect x="194.00" y="728.85" width="2.00" height="9.65" fill="#ff0000" fill-opacity="0.69"/>
<rect x="200.00" y="731.00" width="2.00" height="7.50" fill="#ff0000" fill-opacity="0.69"/>
<rect x="207.00" y="733.69" width="2.00" height="4.81" fill="#ff0000" fill-opacity="0.69"/>
<rect x="214.00" y="735.84" width="2.00" height="2.66" fill="#ff0000" fill-opacity="0.69"/>
<rect x="221.00" y="737.18" width="2.00" height="1.32" fill="#ff0000" fill-opacity="0.69"/>
<rect x="227.00" y="735.03" width="2.00" height="3.47" fill="#ff0000" fill-opacity="0.69"/>
<rect x="234.00" y="730.46" width="2.00" height="8.04" fill="#ff0000" fill-opacity="0.69"/>
<rect x="241.00" y="725.08" width="2.00" height="13.42" fill="#ff0000" fill-opacity="0.69"/>
<rect x="248.00" y="721.59" width="2.00" height="16.91" fill="#ff0000" fill-opacity="0.69"/>
<rect x="254.00" y="718.36" width="2.00" height="20.14" fill="#ff0000" fill-opacity="0.69"/>
<rect x="261.00" y="711.64" width="2.00" height="26.86" fill="#ff0000" fill-opacity="0.69"/>
<rect x="268.00" y="710.30" width="2.00" height="28.20" fill="#ff0000" fill-opacity="0.69"/>
<rect x="275.00" y="710.83" width="2.00" height="27.67" fill="#ff0000" fill-opacity="0.69"/>
<rect x="281.00" y="711.37" width="2.00" height="27.13" fill="#ff0000" fill-opacity="0.69"/>
<rect x="288.00" y="710.83" width="2.00" height="27.67" fill="#ff0000" fill-opacity="0.69"/>
<rect x="295.00" y="710.03" width="2.00" height="28.47" fill="#ff0000" fill-opacity="0.69"/>
<rect x="302.00" y="708.68" width="2.00" height="29.82" fill="#ff0000" fill-opacity="0.69"/>
<rect x="308.00" y="707.61" width="2.00" height="30.89" fill="#ff0000" fill-opacity="0.69"/>
<rect x="315.00" y="704.92" width="2.00" height="33.58" fill="#ff0000" fill-opacity="0.69"/>
<rect x="322.00" y="703.04" width="2.00" height="35.46" fill="#ff0000" fill-opacity="0.69"/>
<rect x="329.00" y="701.42" width="2.00" height="37.08" fill="#ff0000" fill-opacity="0.69"/>
<rect x="335.00" y="699.54" width="2.00" height="38.96" fill="#ff0000" fill-opacity="0.69"/>
<rect x="342.00" y="696.58" width="2.00" height="41.92" fill="#ff0000" fill-opacity="0.69"/>
<rect x="349.00" y="694.16" width="2.00" height="44.34" fill="#ff0000" fill-opacity="0.69"/>
<rect x="356.00" y="692.01" width="2.00" height="46.49" fill="#ff0000" fill-opacity="0.69"/>
<rect x="362.00" y="692.82" width="2.00" height="45.68" fill="#ff0000" fill-opacity="0.69"/>
<rect x="369.00" y="696.58" width="2.00" height="41.92" fill="#ff0000" fill-opacity="0.69"/>
<rect x="376.00" y="706.80" width="2.00" height="31.70" fill="#ff0000" fill-opacity="0.69"/>
<rect x="383.00" y="718.36" width="2.00" height="20.14" fill="#ff0000" fill-opacity="0.69"/>
<rect x="389.00" y="727.50" width="2.00" height="11.00" fill="#ff0000" fill-opacity="0.69"/>
<rect x="396.00" y="718.90" width="2.00" height="19.60" fill="#ff0000" fill-opacity="0.69"/>
<rect x="403.00" y="709.49" width="2.00" height="29.01" fill="#ff0000" fill-opacity="0.69"/>
<rect x="410.00" y="695.51" width="2.00" height="42.99" fill="#ff0000" fill-opacity="0.69"/>
<rect x="416.00" y="683.94" width="2.00" height="54.56" fill="#ff0000" fill-opacity="0.69"/>
<rect x="423.00" y="679.37" width="2.00" height="59.13" fill="#ff0000" fill-opacity="0.69"/>
<rect x="430.00" y="676.68" width="2.00" height="61.82" fill="#ff0000" fill-opacity="0.69"/>
<rect x="437.00" y="678.03" width="2.00" height="60.47" fill="#ff0000" fill-opacity="0.69"/>
<rect x="443.00" y="679.37" width="2.00" height="59.13" fill="#ff0000" fill-opacity="0.69"/>
<rect x="450.00" y="683.14" width="2.00" height="55.36" fill="#ff0000" fill-opacity="0.69"/>
<rect x="457.00" y="692.01" width="2.00" height="46.49" fill="#ff0000" fill-opacity="0.69"/>
<rect x="464.00" y="698.73" width="2.00" height="39.77" fill="#ff0000" fill-opacity="0.69"/>
<rect x="470.00" y="703.57" width="2.00" height="34.93" fill="#ff0000" fill-opacity="0.69"/>
<rect x="477.00" y="708.14" width="2.00" height="30.36" fill="#ff0000" fill-opacity="0.69"/>
<rect x="484.00" y="707.61" width="2.00" height="30.89" fill="#ff0000" fill-opacity="0.69"/>
<rect x="491.00" y="703.30" width="2.00" height="35.20" fill="#ff0000" fill-opacity="0.69"/>
<rect x="497.00" y="696.04" width="2.00" height="42.46" fill="#ff0000" fill-opacity="0.69"/>
<rect x="504.00" y="692.82" width="2.00" height="45.68" fill="#ff0000" fill-opacity="0.69"/>
<rect x="511.00" y="692.82" width="2.00" height="45.68" fill="#ff0000" fill-opacity="0.69"/>
<rect x="518.00" y="690.67" width="2.00" height="47.83" fill="#ff0000" fill-opacity="0.69"/>
<rect x="524.00" y="687.98" width="2.00" height="50.52" fill="#ff0000" fill-opacity="0.69"/>
<rect x="531.00" y="689.86" width="2.00" height="48.64" fill="#ff0000" fill-opacity="0.69"/>
<rect x="538.00" y="696.04" width="2.00" height="42.46" fill="#ff0000" fill-opacity="0.69"/>
<rect x="545.00" y="704.65" width="2.00" height="33.85" fill="#ff0000" fill-opacity="0.69"/>
<rect x="551.00" y="710.83" width="2.00" height="27.67" fill="#ff0000" fill-opacity="0.69"/>
<rect x="558.00" y="716.21" width="2.00" height="22.29" fill="#ff0000" fill-opacity="0.69"/>
<rect x="565.00" y="715.67" width="2.00" height="22.83" fill="#ff0000" fill-opacity="0.69"/>
<rect x="572.00" y="712.18" width="2.00" height="26.32" fill="#ff0000" fill-opacity="0.69"/>
<rect x="578.00" y="705.99" width="2.00" height="32.51" fill="#ff0000" fill-opacity="0.69"/>
<rect x="585.00" y="698.20" width="2.00" height="40.30" fill="#ff0000" fill-opacity="0.69"/>
<rect x="592.00" y="690.67" width="2.00" height="47.83" fill="#ff0000" fill-opacity="0.69"/>
<rect x="599.00" y="683.94" width="2.00" height="54.56" fill="#ff0000" fill-opacity="0.69"/>
<rect x="605.00" y="678.57" width="2.00" height="59.93" fill="#ff0000" fill-opacity="0.69"/>
<rect x="612.00" y="671.04" width="2.00" height="67.46" fill="#ff0000" fill-opacity="0.69"/>
<rect x="619.00" y="660.55" width="2.00" height="77.95" fill="#ff0000" fill-opacity="0.69"/>
<rect x="626.00" y="658.40" width="2.00" height="80.10" fill="#ff0000" fill-opacity="0.69"/>
<rect x="632.00" y="659.21" width="2.00" height="79.29" fill="#ff0000" fill-opacity="0.69"/>
<rect x="639.00" y="662.43" width="2.00" height="76.07" fill="#ff0000" fill-opacity="0.69"/>
<rect x="646.00" y="663.78" width="2.00" height="74.72" fill="#ff0000" fill-opacity="0.69"/>
<rect x="653.00" y="665.12" width="2.00" height="73.38" fill="#ff0000" fill-opacity="0.69"/>
<rect x="659.00" y="667.81" width="2.00" height="70.69" fill="#ff0000" fill-opacity="0.69"/>
<rect x="666.00" y="674.53" width="2.00" height="63.97" fill="#ff0000" fill-opacity="0.69"/>
<rect x="673.00" y="678.57" width="2.00" height="59.93" fill="#ff0000" fill-opacity="0.69"/>
<rect x="679.00" y="682.06" width="2.00" height="56.44" fill="#ff0000" fill-opacity="0.69"/>
<rect x="686.00" y="686.63" width="2.00" height="51.87" fill="#ff0000" fill-opacity="0.69"/>
<rect x="693.00" y="692.55" width="2.00" height="45.95" fill="#ff0000" fill-opacity="0.69"/>
<rect x="700.00" y="696.04" width="2.00" height="42.46" fill="#ff0000" fill-opacity="0.69"/>
<rect x="706.00" y="693.36" width="2.00" height="45.14" fill="#ff0000" fill-opacity="0.69"/>
<rect x="713.00" y="690.13" width="2.00" height="48.37" fill="#ff0000" fill-opacity="0.69"/>
<rect x="720.00" y="687.98" width="2.00" height="50.52" fill="#ff0000" fill-opacity="0.69"/>
<rect x="727.00" y="683.14" width="2.00" height="55.36" fill="#ff0000" fill-opacity="0.69"/>
<rect x="733.00" y="682.06" width="2.00" height="56.44" fill="#ff0000" fill-opacity="0.69"/>
<rect x="740.00" y="683.94" width="2.00" height="54.56" fill="#ff0000" fill-opacity="0.69"/>
<rect x="747.00" y="685.83" width="2.00" height="52.67" fill="#ff0000" fill-opacity="0.69"/>
<rect x="754.00" y="685.83" width="2.00" height="52.67" fill="#ff0000" fill-opacity="0.69"/>
<rect x="760.00" y="682.60" width="2.00" height="55.90" fill="#ff0000" fill-opacity="0.69"/>
<rect x="767.00" y="675.34" width="2.00" height="63.16" fill="#ff0000" fill-opacity="0.69"/>
<rect x="774.00" y="673.73" width="2.00" height="64.77" fill="#ff0000" fill-opacity="0.69"/>
<rect x="781.00" y="674.53" width="2.00" height="63.97" fill="#ff0000" fill-opacity="0.69"/>
<rect x="787.00" y="675.88" width="2.00" height="62.62" fill="#ff0000" fill-opacity="0.69"/>
<rect x="794.00" y="677.76" width="2.00" height="60.74" fill="#ff0000" fill-opacity="0.69"/>
<rect x="801.00" y="680.45" width="2.00" height="58.05" fill="#ff0000" fill-opacity="0.69"/>
<rect x="808.00" y="682.60" width="2.00" height="55.90" fill="#ff0000" fill-opacity="0.69"/>
<rect x="814.00" y="685.29" width="2.00" height="53.21" fill="#ff0000" fill-opacity="0.69"/>
<rect x="821.00" y="690.67" width="2.00" height="47.83" fill="#ff0000" fill-opacity="0.69"/>
<rect x="828.00" y="698.73" width="2.00" height="39.77" fill="#ff0000" fill-opacity="0.69"/>
<rect x="835.00" y="706.26" width="2.00" height="32.24" fill="#ff0000" fill-opacity="0.69"/>
<rect x="841.00" y="712.72" width="2.00" height="25.78" fill="#ff0000" fill-opacity="0.69"/>
<rect x="848.00" y="717.56" width="2.00" height="20.94" fill="#ff0000" fill-opacity="0.69"/>
<rect x="855.00" y="716.75" width="2.00" height="21.75" fill="#ff0000" fill-opacity="0.69"/>
<rect x="862.00" y="712.18" width="2.00" height="26.32" fill="#ff0000" fill-opacity="0.69"/>
<rect x="868.00" y="708.14" width="2.00" height="30.36" fill="#ff0000" fill-opacity="0.69"/>
<rect x="875.00" y="708.68" width="2.00" height="29.82" fill="#ff0000" fill-opacity="0.69"/>
<rect x="882.00" y="713.52" width="2.00" height="24.98" fill="#ff0000" fill-opacity="0.69"/>
<rect x="889.00" y="717.56" width="2.00" height="20.94" fill="#ff0000" fill-opacity="0.69"/>
<rect x="895.00" y="716.21" width="2.00" height="22.29" fill="#ff0000" fill-opacity="0.69"/>
<rect x="902.00" y="711.64" width="2.00" height="26.86" fill="#ff0000" fill-opacity="0.69"/>
<rect x="909.00" y="706.80" width="2.00" height="31.70" fill="#ff0000" fill-opacity="0.69"/>
<rect x="916.00" y="705.19" width="2.00" height="33.31" fill="#ff0000" fill-opacity="0.69"/>
<rect x="922.00" y="718.90" width="2.00" height="19.60" fill="#ff0000" fill-opacity="0.69"/>
<rect x="929.00" y="731.00" width="2.00" height="7.50" fill="#ff0000" fill-opacity="0.69"/>
<rect x="943.00" y="738.50" width="2.00" height="6.48" fill="#ff0000" fill-opacity="0.69"/>
<rect x="949.00" y="738.50" width="2.00" height="9.98" fill="#ff0000" fill-opacity="0.69"/>
<rect x="956.00" y="738.50" width="2.00" height="10.78" fill="#ff0000" fill-opacity="0.69"/>
<rect x="963.00" y="738.50" width="2.00" height="12.13" fill="#ff0000" fill-opacity="0.69"/>
<rect x="970.00" y="738.50" width="2.00" height="8.10" fill="#ff0000" fill-opacity="0.69"/>
<rect x="976.00" y="738.50" width="2.00" height="1.91" fill="#ff0000" fill-opacity="0.69"/>
<rect x="983.00" y="733.69" width="2.00" height="4.81" fill="#ff0000" fill-opacity="0.69"/>
<rect x="990.00" y="722.93" width="2.00" height="15.57" fill="#ff0000" fill-opacity="0.69"/>
<rect x="997.00" y="720.24" width="2.00" height="18.26" fill="#ff0000" fill-opacity="0.69"/>
<rect x="1003.00" y="732.34" width="2.00" height="6.16" fill="#ff0000" fill-opacity="0.69"/>
<rect x="1010.00" y="738.50" width="2.00" height="7.29" fill="#ff0000" fill-opacity="0.69"/>
<rect x="1017.00" y="738.50" width="2.00" height="19.39" fill="#ff0000" fill-opacity="0.69"/>
<rect x="1024.00" y="738.50" width="2.00" height="28.80" fill="#ff0000" fill-opacity="0.69"/>
<rect x="1030.00" y="738.50" width="2.00" height="39.56" fill="#ff0000" fill-opacity="0.69"/>
<rect x="1037.00" y="738.50" width="2.00" height="45.74" fill="#ff0000" fill-opacity="0.69"/>
<rect x="1044.00" y="738.50" width="2.00" height="46.28" fill="#ff0000" fill-opacity="0.69"/>
<rect x="1051.00" y="738.50" width="2.00" height="44.93" fill="#ff0000" fill-opacity="0.69"/>
<rect x="1057.00" y="738.50" width="2.00" height="43.59" fill="#ff0000" fill-opacity="0.69"/>
<rect x="1064.00" y="738.50" width="2.00" height="36.87" fill="#ff0000" fill-opacity="0.69"/>
<rect x="1071.00" y="738.50" width="2.00" height="24.23" fill="#ff0000" fill-opacity="0.69"/>
<rect x="1078.00" y="738.50" width="2.00" height="11.80" fill="#ff0000" fill-opacity="0.69"/>
<rect x="1084.00" y="738.50" width="2.00" height="1.30" fill="#ff0000" fill-opacity="0.69"/>
<rect x="1091.00" y="733.09" width="2.00" height="5.41" fill="#ff0000" fill-opacity="0.69"/>
<rect x="1098.00" y="731.48" width="2.00" height="7.02" fill="#ff0000" fill-opacity="0.69"/>
<rect x="1105.00" y="734.44" width="2.00" height="4.06" fill="#ff0000" fill-opacity="0.69"/>
<rect x="1111.00" y="737.12" width="2.00" height="1.38" fill="#ff0000" fill-opacity="0.69"/>
<rect x="1118.00" y="738.50" width="2.00" height="1.31" fill="#ff0000" fill-opacity="0.69"/>
<rect x="1125.00" y="738.50" width="2.00" height="3.19" fill="#ff0000" fill-opacity="0.69"/>
<rect x="1132.00" y="738.50" width="2.00" height="2.65" fill="#ff0000" fill-opacity="0.69"/>
<rect x="1159.00" y="738.50" width="2.00" height="3.73" fill="#ff0000" fill-opacity="0.69"/>
<rect x="1165.00" y="738.50" width="2.00" height="1.85" fill="#ff0000" fill-opacity="0.69"/>
<rect x="1179.00" y="738.50" width="2.00" height="1.31" fill="#ff0000" fill-opacity="0.69"/>
<rect x="1186.00" y="738.50" width="2.00" height="1.04" fill="#ff0000" fill-opacity="0.69"/>
</g>
<line x1="13" x2="1329" y1="738.5" y2="738.5" stroke="#ff0000" stroke-width="1" stroke-dasharray="1 2" shape-rendering="crispEdges"/>
<polyline points="12.5,640.4 19.5,643.6 26.5,649.8 33.5,656.2 39.5,664.6 46.5,669.7 53.5,672.4 60.5,675.9 66.5,686.6 73.5,699.3 80.5,710.0 87.5,719.7 93.5,731.5 100.5,740.9 107.5,745.0 114.5,745.0 120.5,743.9 127.5,741.8 134.5,737.7 141.5,731.0 147.5,731.0 154.5,729.1 161.5,726.4 168.5,725.6 174.5,728.3 181.5,728.3 188.5,728.3 195.5,728.8 201.5,731.0 208.5,733.7 215.5,735.8 222.5,737.2 228.5,735.0 235.5,730.5 242.5,725.1 249.5,721.6 255.5,718.4 262.5,711.6 269.5,710.3 276.5,710.8 282.5,711.4 289.5,710.8 296.5,710.0 303.5,708.7 309.5,707.6 316.5,704.9 323.5,703.0 330.5,701.4 336.5,699.5 343.5,696.6 350.5,694.2 357.5,692.0 363.5,692.8 370.5,696.6 377.5,706.8 384.5,718.4 390.5,727.5 397.5,718.9 404.5,709.5 411.5,695.5 417.5,683.9 424.5,679.4 431.5,676.7 438.5,678.0 444.5,679.4 451.5,683.1 458.5,692.0 465.5,698.7 471.5,703.6 478.5,708.1 485.5,707.6 492.5,703.3 498.5,696.0 505.5,692.8 512.5,692.8 519.5,690.7 525.5,688.0 532.5,689.9 539.5,696.0 546.5,704.6 552.5,710.8 559.5,716.2 566.5,715.7 573.5,712.2 579.5,706.0 586.5,698.2 593.5,690.7 600.5,683.9 606.5,678.6 613.5,671.0 620.5,660.6 627.5,658.4 633.5,659.2 640.5,662.4 647.5,663.8 654.5,665.1 660.5,667.8 667.5,674.5 674.5,678.6 680.5,682.1 687.5,686.6 694.5,692.5 701.5,696.0 707.5,693.4 714.5,690.1 721.5,688.0 728.5,683.1 734.5,682.1 741.5,683.9 748.5,685.8 755.5,685.8 761.5,682.6 768.5,675.3 775.5,673.7 782.5,674.5 788.5,675.9 795.5,677.8 802.5,680.4 809.5,682.6 815.5,685.3 822.5,690.7 829.5,698.7 836.5,706.3 842.5,712.7 849.5,717.6 856.5,716.7 863.5,712.2 869.5,708.1 876.5,708.7 883.5,713.5 890.5,717.6 896.5,716.2 903.5,711.6 910.5,706.8 917.5,705.2 923.5,718.9 930.5,731.0 937.5,738.5 944.5,745.0 950.5,748.5 957.5,749.3 964.5,750.6 971.5,746.6 977.5,740.4 984.5,733.7 991.5,722.9 998.5,720.2 1004.5,732.3 1011.5,745.8 1018.5,757.9 1025.5,767.3 1031.5,778.1 1038.5,784.2 1045.5,784.8 1052.5,783.4 1058.5,782.1 1065.5,775.4 1072.5,762.7 1079.5,750.3 1085.5,739.8 1092.5,733.1 1099.5,731.5 1106.5,734.4 1112.5,737.1 1119.5,739.8 1126.5,741.7 1133.5,741.2 1139.5,739.0 1146.5,737.7 1153.5,739.0 1160.5,742.2 1166.5,740.3 1173.5,738.5 1180.5,739.8 1187.5,739.5" fill="none" stroke="#ff0000" stroke-width="2.5" stroke-linejoin="round" stroke-linecap="round" stroke-opacity="0.7"/>
<polyline points="12.5,637.7 19.5,639.0 26.5,642.8 33.5,647.6 39.5,653.8 46.5,659.7 53.5,665.7 60.5,671.3 66.5,677.2 73.5,686.6 80.5,696.6 87.5,709.0 93.5,720.2 100.5,729.7 107.5,736.4 114.5,741.2 120.5,743.6 127.5,743.1 134.5,741.2 141.5,737.2 147.5,734.2 154.5,731.5 161.5,729.1 168.5,727.5 174.5,727.5 181.5,728.0 188.5,728.0 195.5,728.3 201.5,729.4 208.5,731.0 215.5,733.2 222.5,735.3 228.5,735.8 235.5,733.7 242.5,729.7 249.5,725.6 255.5,721.6 262.5,717.0 269.5,714.1 276.5,712.2 282.5,711.6 289.5,711.1 296.5,710.6 303.5,709.8 309.5,708.7 316.5,706.8 323.5,704.9 330.5,703.3 336.5,701.4 343.5,699.3 350.5,696.9 357.5,694.7 363.5,694.2 370.5,695.5 377.5,699.3 384.5,705.5 390.5,714.3 397.5,718.1 404.5,716.7 411.5,709.5 417.5,700.1 424.5,690.7 431.5,683.9 438.5,680.4 444.5,679.9 451.5,681.3 458.5,685.8 465.5,691.5 471.5,696.9 478.5,702.2 485.5,704.6 492.5,704.6 498.5,702.2 505.5,699.3 512.5,696.6 519.5,693.9 525.5,691.5 532.5,690.1 539.5,691.5 546.5,696.0 552.5,701.4 559.5,707.3 566.5,712.2 573.5,713.0 579.5,710.8 586.5,705.5 593.5,700.5 600.5,694.2 606.5,688.0 613.5,680.5 620.5,672.4 627.5,664.9 633.5,661.1 640.5,660.6 647.5,661.1 654.5,662.4 660.5,665.1 667.5,668.6 674.5,672.4 680.5,676.4 687.5,680.4 694.5,685.8 701.5,690.1 707.5,692.0 714.5,692.0 721.5,690.1 728.5,687.2 734.5,685.0 741.5,684.2 748.5,684.5 755.5,684.8 761.5,683.9 768.5,680.4 775.5,677.8 782.5,675.9 788.5,675.1 795.5,675.3 802.5,676.7 809.5,678.6 815.5,681.0 822.5,684.5 829.5,690.1 836.5,696.9 842.5,703.6 849.5,710.0 856.5,713.5 863.5,713.0 869.5,711.6 876.5,710.8 883.5,711.6 890.5,713.5 896.5,714.3 903.5,713.5 910.5,711.6 917.5,709.0 923.5,711.6 930.5,718.9 937.5,727.0 944.5,735.0 950.5,741.8 957.5,745.8 964.5,748.5 971.5,747.9 977.5,745.3 984.5,740.4 991.5,733.7 998.5,727.8 1004.5,727.5 1011.5,732.3 1018.5,743.1 1025.5,755.2 1031.5,766.0 1038.5,774.0 1045.5,779.4 1052.5,782.1 1058.5,782.6 1065.5,779.9 1072.5,772.7 1079.5,764.6 1085.5,754.5 1092.5,745.0 1099.5,737.8 1106.5,734.2 1112.5,734.7 1119.5,736.3 1126.5,738.5 1133.5,740.1 1139.5,740.3 1146.5,739.5 1153.5,739.3 1160.5,740.3 1166.5,740.9 1173.5,740.1 1180.5,740.1 1187.5,740.3" fill="none" stroke="#0000ff" stroke-width="2.7" stroke-linejoin="round" stroke-linecap="round" stroke-opacity="0.68"/>
</g>
<g shape-rendering="crispEdges">
<rect x="1329.00" y="34.00" width="1.00" height="821.00" fill="#4b4e5a" />
<rect x="14.00" y="800.00" width="1447.00" height="1.00" fill="#4b4e5a" />
</g>
<text x="66.70" y="832.60" font-size="24.5" fill="#131722" textLength="40.30" lengthAdjust="spacingAndGlyphs" >Aug</text>
<text x="209.20" y="832.60" font-size="24.5" fill="#131722" textLength="38.20" lengthAdjust="spacingAndGlyphs" >Sep</text>
<text x="357.00" y="832.60" font-size="24.5" fill="#131722" textLength="38.00" lengthAdjust="spacingAndGlyphs" >Oct</text>
<text x="512.50" y="832.60" font-size="24.5" fill="#131722" textLength="39.80" lengthAdjust="spacingAndGlyphs" >Nov</text>
<text x="647.20" y="832.60" font-size="24.5" fill="#131722" textLength="39.50" lengthAdjust="spacingAndGlyphs" >Dec</text>
<text x="788.47" y="832.60" font-size="24.5" fill="#131722" stroke="#131722" stroke-width="0.93" stroke-linejoin="round" paint-order="stroke" textLength="54.77" lengthAdjust="spacingAndGlyphs" >2026</text>
<text x="937.80" y="832.60" font-size="24.5" fill="#131722" textLength="39.00" lengthAdjust="spacingAndGlyphs" >Feb</text>
<text x="1072.00" y="832.60" font-size="24.5" fill="#131722" textLength="39.70" lengthAdjust="spacingAndGlyphs" >Mar</text>
<text x="1222.40" y="832.60" font-size="24.5" fill="#131722" textLength="37.10" lengthAdjust="spacingAndGlyphs" >Apr</text>
<text x="1347.20" y="83.60" font-size="23.8" fill="#131722" textLength="86.80" lengthAdjust="spacingAndGlyphs" >187.500</text>
<text x="1347.20" y="153.00" font-size="23.8" fill="#131722" textLength="86.80" lengthAdjust="spacingAndGlyphs" >185.000</text>
<text x="1347.20" y="223.00" font-size="23.8" fill="#131722" textLength="86.80" lengthAdjust="spacingAndGlyphs" >182.500</text>
<text x="1347.20" y="292.70" font-size="23.8" fill="#131722" textLength="86.80" lengthAdjust="spacingAndGlyphs" >180.000</text>
<text x="1347.20" y="362.60" font-size="23.8" fill="#131722" textLength="86.80" lengthAdjust="spacingAndGlyphs" >177.500</text>
<text x="1347.20" y="432.40" font-size="23.8" fill="#131722" textLength="86.80" lengthAdjust="spacingAndGlyphs" >175.000</text>
<text x="1347.20" y="502.00" font-size="23.8" fill="#131722" textLength="86.80" lengthAdjust="spacingAndGlyphs" >172.500</text>
<text x="1347.20" y="571.90" font-size="23.8" fill="#131722" textLength="86.80" lengthAdjust="spacingAndGlyphs" >170.000</text>
<rect x="1330" y="168.1" width="114" height="34.599999999999994" rx="2" fill="#6aa84f"/>
<rect x="1330.00" y="168.10" width="4.00" height="34.60" fill="#6aa84f" />
<text x="1347.30" y="193.90" font-size="23.8" fill="#fff" textLength="84.00" lengthAdjust="spacingAndGlyphs" >183.541</text>
<rect x="1330" y="204.3" width="114" height="34.5" rx="2" fill="#3a3fa4"/>
<rect x="1330.00" y="204.30" width="4.00" height="34.50" fill="#3a3fa4" />
<text x="1347.30" y="230.05" font-size="23.8" fill="#fff" textLength="86.20" lengthAdjust="spacingAndGlyphs" >183.260</text>
<rect x="1330" y="284.3" width="114" height="34.5" rx="2" fill="#bf9000"/>
<rect x="1330.00" y="284.30" width="4.00" height="34.50" fill="#bf9000" />
<text x="1347.30" y="310.05" font-size="23.8" fill="#fff" textLength="86.20" lengthAdjust="spacingAndGlyphs" >179.382</text>
<rect x="1334.5" y="39" width="122" height="32" rx="5" fill="#fff" stroke="#f3f3f5" stroke-width="2"/>
<text x="1345.20" y="60.40" font-size="16.5" fill="#131722" textLength="24.00" lengthAdjust="spacingAndGlyphs" >JPY</text>
<text x="13.30" y="25.10" font-size="15.5" fill="#1a1a1e" textLength="527.00" lengthAdjust="spacingAndGlyphs" >Continuum_Economics created with TradingView.com, Mar 20, 2026 14:00 UTC</text>
<g fill="#141414">
<path d="M15.9 882.4 H30.5 V901.1 H22.8 V890.5 H15.9 Z"/>
<circle cx="36.6" cy="886" r="3.6"/>
<path d="M43.4 882.4 H52.9 L46.4 901.1 H36.6 Z"/>
</g>
<text x="62.10" y="901.10" font-size="26.5" fill="#141414" font-weight="700" textLength="150.60" lengthAdjust="spacingAndGlyphs" >TradingView</text>
</svg></body></html>
